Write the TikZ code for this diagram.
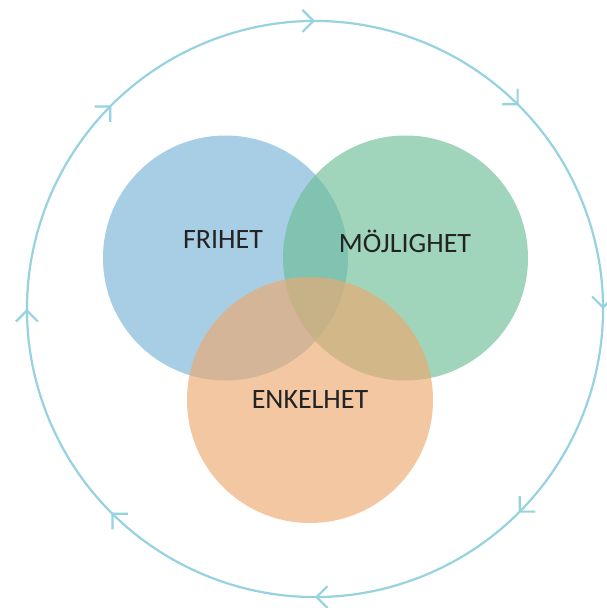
\documentclass[tikz,border=0pt]{standalone}
\usepackage{fontspec}
\setmainfont{Carlito}
\usetikzlibrary{arrows.meta,decorations.markings}
\definecolor{cblue}{RGB}{120,180,213}
\definecolor{cgreen}{RGB}{110,190,150}
\definecolor{corange}{RGB}{237,169,112}
\definecolor{ring}{RGB}{150,210,224}
\definecolor{txt}{RGB}{35,35,35}
\tikzset{
  setcircle/.style={fill opacity=0.65},
  label/.style={font=\fontsize{28}{30}\selectfont, text=txt, inner sep=0pt},
  ringline/.style={draw=ring, line width=2.2pt,
    postaction={decorate},
    decoration={markings,
      mark=between positions 0.0625 and 1 step 0.125 with
        {\arrow[ring, line width=2.2pt]{Straight Barb[length=11pt,width=22pt]}}}}
}
\begin{document}
\begin{tikzpicture}[x=1pt,y=-1pt]
\useasboundingbox (0,0) rectangle (606,608);
\coordinate (ctr) at (315,309);
\draw[ringline] (ctr) ++(-112.5:288) arc[start angle=-112.5, end angle=247.5, radius=288];
\fill[cblue, setcircle] (225.5,258) circle[radius=122.5];
\fill[cgreen, setcircle] (405.5,258) circle[radius=122.5];
\fill[corange, setcircle] (310,400) circle[radius=123];
\node[label] (frihet) at (223,240) {FRIHET};
\node[label] (mojlighet) at (405,241) {MÖJLIGHET};
\node[label] (enkelhet) at (310,400) {ENKELHET};
\end{tikzpicture}
\end{document}
